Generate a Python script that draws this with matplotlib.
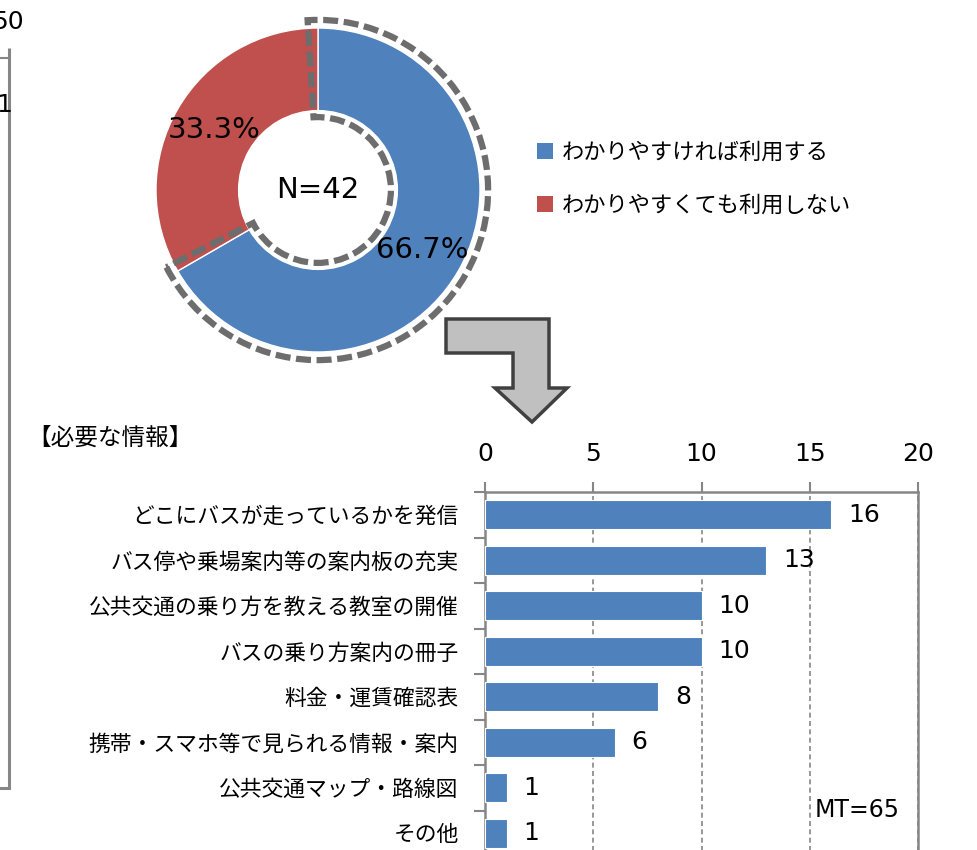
import numpy as np
import matplotlib
matplotlib.use('Agg')
import matplotlib.pyplot as plt
from matplotlib.patches import Wedge, Polygon, Patch

plt.rcParams['font.family'] = ['DejaVu Sans', 'Noto Sans CJK JP']

# donut data
pie_labels = ['わかりやすければ利用する', 'わかりやすくても利用しない']
pie_counts = [28, 14]
pie_colors = ['#4f81bd', '#c0504d']
n_total = 42

# bar data
bar_labels = ['どこにバスが走っているかを発信', 'バス停や乗場案内等の案内板の充実',
              '公共交通の乗り方を教える教室の開催', 'バスの乗り方案内の冊子',
              '料金・運賃確認表', '携帯・スマホ等で見られる情報・案内',
              '公共交通マップ・路線図', 'その他']
bar_values = [16, 13, 10, 10, 8, 6, 1, 1]
x_ticks = [0, 5, 10, 15, 20]
mt_total = 65

W, H = 977, 850
fig = plt.figure(figsize=(W/100, H/100), dpi=100)

# overlay in pixel coords for decorations
ov = fig.add_axes([0, 0, 1, 1], zorder=0)
ov.set_xlim(0, W)
ov.set_ylim(H, 0)
ov.axis('off')
grey = '#868686'
ov.plot([9, 9], [48, 788], color=grey, lw=2.2, solid_capstyle='butt')
ov.plot([0, 9], [58, 58], color=grey, lw=1.5)
ov.plot([0, 9], [788, 788], color=grey, lw=2.2)
ov.text(8, 22, '50', fontsize=18, ha='center', va='center')
ov.text(4, 105, '1', fontsize=18, ha='center', va='center')
arrow = [(446, 319), (549, 319), (549, 388), (567, 388), (532, 422),
         (495, 388), (513, 388), (513, 353), (446, 353)]
ov.add_patch(Polygon(arrow, closed=True, facecolor='#c0c0c0', edgecolor='#404040', lw=2.5))
ov.text(27, 438, '【必要な情報】', fontsize=17, va='center', ha='left')

# donut
cx, cy, r = 318, 190, 162
lim = 1.12
ax_p = fig.add_axes([(cx - r*lim)/W, 1 - (cy + r*lim)/H, 2*r*lim/W, 2*r*lim/H], zorder=2)
wedges, texts, autotexts = ax_p.pie(pie_counts, colors=pie_colors, startangle=90, counterclock=False,
                                    radius=1, autopct='%.1f%%', pctdistance=0.74,
                                    wedgeprops=dict(width=0.51, edgecolor='white', linewidth=1),
                                    textprops=dict(fontsize=21))
ax_p.set_xlim(-lim, lim)
ax_p.set_ylim(-lim, lim)
ax_p.set_aspect('equal')
ax_p.axis('off')
ax_p.text(0, 0, 'N=%d' % n_total, fontsize=21, ha='center', va='center')
bw = wedges[0]
ax_p.add_patch(Wedge((0, 0), 1.05, bw.theta1 - 3, bw.theta2 + 3.5, width=0.6,
                     fill=False, edgecolor='#6d6d6d', lw=4.5, linestyle=(0, (2.4, 0.9)),
                     capstyle='butt', joinstyle='miter'))

handles = [Patch(facecolor=w.get_facecolor(), edgecolor='none') for w in wedges]
fig.legend(handles, pie_labels, loc='upper left', bbox_to_anchor=(517/W, 1 - 122/H),
           frameon=False, fontsize=16, handlelength=0.7, handleheight=0.7,
           handletextpad=0.4, labelspacing=1.45)

# bars
top, step = 492, 45.5
ax = fig.add_axes([485/W, 1 - (top + 8*step)/H, 433/W, 8*step/H], zorder=1)
y = np.arange(len(bar_values))
ax.barh(y, bar_values, height=0.64, color='#4f81bd', edgecolor='white', lw=0.8, zorder=3)
ax.set_xlim(0, 20)
ax.set_ylim(len(bar_values) - 0.5, -0.5)
ax.xaxis.tick_top()
ax.set_xticks(x_ticks)
ax.tick_params(axis='x', which='major', length=7, width=1.5, color=grey, pad=12, labelsize=18)
ax.set_yticks(y)
ax.set_yticklabels(bar_labels, fontsize=15.7)
ax.set_yticks(np.arange(-0.5, len(bar_values)), minor=True)
ax.tick_params(axis='y', which='major', length=0, pad=19)
ax.tick_params(axis='y', which='minor', length=8, width=1.5, color=grey)
for s in ['top', 'left', 'right']:
    ax.spines[s].set_color(grey)
    ax.spines[s].set_linewidth(1.8)
ax.spines['bottom'].set_visible(False)
ax.grid(axis='x', linestyle=(0, (3, 2)), color=grey, lw=1.2, zorder=0)
for i, v in enumerate(bar_values):
    ax.annotate(str(v), (v, i), xytext=(12, 0), textcoords='offset points',
                va='center', ha='left', fontsize=18)

fig.text(815/W, 1 - 810/H, 'MT=%d' % mt_total, fontsize=17, va='center', ha='left', zorder=5)

fig.savefig('out.png', dpi=100)
